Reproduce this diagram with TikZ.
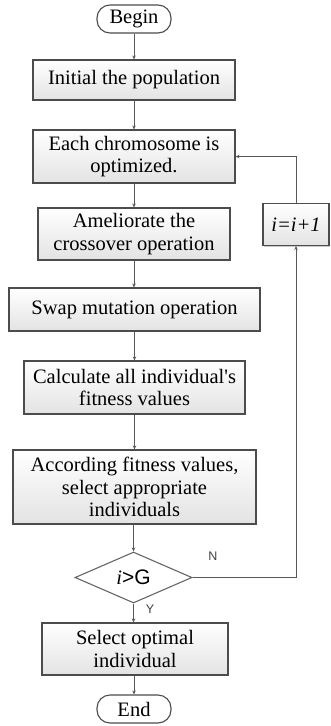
\documentclass[tikz,border=0pt]{standalone}
\usepackage{fontspec}
\setmainfont{Liberation Serif}
\newfontfamily\labsans{Liberation Sans}
\usetikzlibrary{arrows.meta,shapes.geometric,shadows}
\begin{document}
\begin{tikzpicture}[x=1pt,y=-1pt,
  every node/.style={font=\fontsize{20.5}{22.5}\selectfont},
  procbox/.style={draw=black!70, line width=1.1pt, top color=white, bottom color=black!11,
    drop shadow={shadow xshift=1.2pt, shadow yshift=-1.2pt, fill=black!35, opacity=0.6},
    align=center, inner sep=0pt, anchor=center},
  termbox/.style={draw=black!70, line width=1.1pt, fill=white, rounded corners=13pt, inner sep=0pt, anchor=center},
  decbox/.style={draw=black!60, line width=1.1pt, diamond, aspect=2.3, fill=white, inner sep=0pt, anchor=center},
  arr/.style={draw=black!65, line width=1pt, -{Stealth[length=4pt,width=3.5pt]}},
  lab/.style={font=\labsans\fontsize{12.5}{13}\selectfont, text=black!75}]
\useasboundingbox (0,0) rectangle (330,726);
\node[termbox, minimum width=74pt, minimum height=28pt] (begin) at (134,19) {Begin};
\node[procbox, minimum width=202pt, minimum height=40pt] (init) at (134,80) {Initial the population};
\node[procbox, minimum width=202pt, minimum height=53pt] (chrom) at (134,156.5) {Each chromosome is\\optimized.};
\node[procbox, minimum width=192pt, minimum height=52pt] (amel) at (134,234) {Ameliorate the\\crossover operation};
\node[procbox, minimum width=66pt, minimum height=42pt] (inc) at (296,224.5) {\itshape i=i+1};
\node[procbox, minimum width=251pt, minimum height=43pt] (swap) at (134.5,309.5) {Swap mutation operation};
\node[procbox, minimum width=221pt, minimum height=53pt] (calc) at (134.5,387.5) {Calculate all individual\textquotesingle s\\fitness values};
\node[procbox, minimum width=243pt, minimum height=74pt] (acc) at (134.5,487) {According fitness values,\\select appropriate\\individuals};
\node[decbox, minimum width=117pt, minimum height=51pt] (dia) at (133.5,577.5) {\textit{i}{\labsans\fontsize{21}{22}\selectfont >G}};
\node[procbox, minimum width=186pt, minimum height=52pt] (sel) at (135,649) {Select optimal\\individual};
\node[termbox, minimum width=74pt, minimum height=28pt] (end) at (134,709) {End};
\node[lab] (nlab) at (213,556) {N};
\node[lab] (ylab) at (150,609) {Y};
\draw[arr] (begin) -- (init);
\draw[arr] (init) -- (chrom);
\draw[arr] (chrom) -- (amel);
\draw[arr] (amel.south) -- (amel.south |- swap.north);
\draw[arr] (swap.south -| calc.north) -- (calc.north);
\draw[arr] (calc) -- (acc);
\draw[arr] (acc.south -| dia.north) -- (dia.north);
\draw[arr] (dia.south) -- (dia.south |- sel.north);
\draw[arr] (sel.south -| end.north) -- (end.north);
\draw[arr] (dia.east) -| (inc.south);
\draw[arr] (inc.north) |- (chrom.east);
\end{tikzpicture}
\end{document}
